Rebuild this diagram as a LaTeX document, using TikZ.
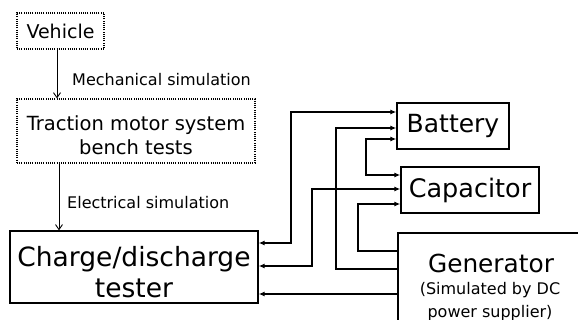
\documentclass[tikz,border=0pt]{standalone}
\usepackage{fontspec}
\setmainfont{DejaVu Sans}
\usetikzlibrary{arrows.meta}
\tikzset{
  x=1pt, y=-1pt,
  solidbox/.style={draw, line width=1.3pt, inner sep=0pt},
  dotbox/.style={draw, line width=1.1pt, dash pattern=on 1pt off 1.2pt, inner sep=0pt},
  txt/.style={inner sep=0pt, align=center},
  conn/.style={line width=1.2pt},
  tipped/.style={conn, -{Latex[length=6pt,width=5pt]}},
  bitipped/.style={conn, {Latex[length=6pt,width=5pt]}-{Latex[length=6pt,width=5pt]}},
  simarrow/.style={line width=0.9pt, -{Straight Barb[length=5pt,width=7pt]}},
}
\begin{document}
\begin{tikzpicture}
\useasboundingbox (0,0) rectangle (578,320);
\clip (0,0) rectangle (578,320);
\fill[white] (0,0) rectangle (578,320);

% boxes
\node[dotbox, minimum width=87pt, minimum height=36pt] (veh) at (60.5,31) {};
\node[txt, font=\fontsize{19}{22}\selectfont] (vehT) at (60.5,31) {Vehicle};

\node[dotbox, minimum width=238pt, minimum height=64pt] (trac) at (136,131) {};
\node[txt, font=\fontsize{19.5}{24}\selectfont] (tracT) at (136,135) {Traction motor system\\bench tests};

\node[solidbox, minimum width=248pt, minimum height=72pt] (chg) at (134,267) {};
\node[txt, font=\fontsize{26.5}{31}\selectfont] (chgT) at (134,272) {Charge/discharge\\tester};

\node[solidbox, minimum width=112pt, minimum height=46pt] (bat) at (453,126) {};
\node[txt, font=\fontsize{25}{30}\selectfont] (batT) at (453,126) {Battery};

\node[solidbox, minimum width=138pt, minimum height=46pt] (cap) at (470,190) {};
\node[txt, font=\fontsize{25.5}{30}\selectfont] (capT) at (470,190) {Capacitor};

\node[solidbox, minimum width=202pt, minimum height=107pt] (gen) at (499,286.5) {};
\node[txt, font=\fontsize{24.8}{30}\selectfont] (genT) at (491,263) {Generator};
\node[txt, font=\fontsize{16}{23}\selectfont] (genS) at (490,301.5) {(Simulated by DC\\power supplier)};

% simulation arrows
\draw[simarrow] (veh.south -| 57,0) -- (trac.north -| 57,0);
\node[txt, anchor=west, font=\fontsize{16}{18}\selectfont] (mech) at (72,80) {Mechanical simulation};
\draw[simarrow] (trac.south -| 59,0) -- (chg.north -| 59,0);
\node[txt, anchor=west, font=\fontsize{16}{18}\selectfont] (elec) at (67,203) {Electrical simulation};

% connectors
\draw[bitipped] (chg.east |- 0,243) -| (291,112) -- (bat.west |- 0,112);
\draw[tipped] (gen.west |- 0,269) -| (336,128) -- (bat.west |- 0,128);
\draw[bitipped] (bat.west |- 0,139) -| (366,175) -- (cap.west |- 0,175);
\draw[bitipped] (chg.east |- 0,266) -| (312,189) -- (cap.west |- 0,189);
\draw[tipped] (gen.west |- 0,251) -| (358,204) -- (cap.west |- 0,204);
\draw[tipped] (gen.west |- 0,294) -- (chg.east |- 0,294);
\end{tikzpicture}
\end{document}
